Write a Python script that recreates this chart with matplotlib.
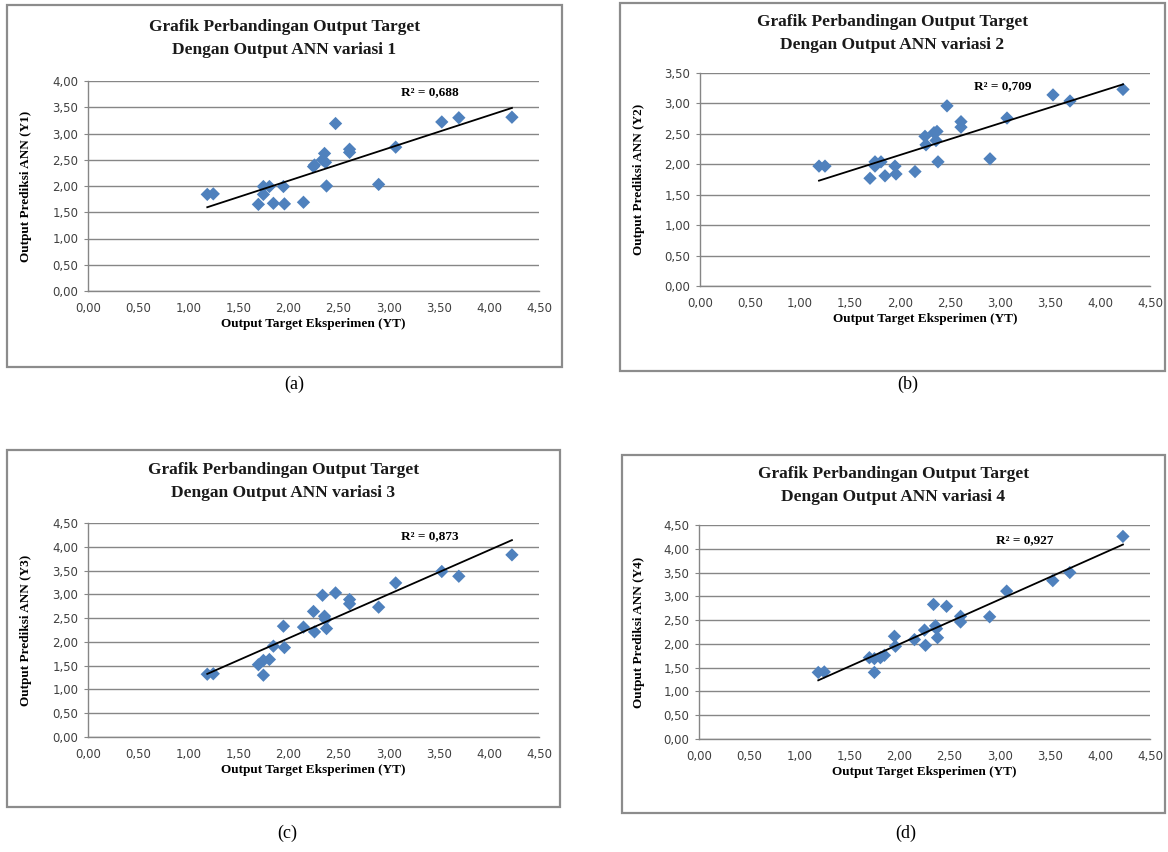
import numpy as np
import matplotlib
matplotlib.use("Agg")
import matplotlib.pyplot as plt
from matplotlib.patches import Rectangle

# ---- data ----
yt = [1.19, 1.25, 1.70, 1.75, 1.75, 1.81, 1.85, 1.95, 1.96, 2.15, 2.25, 2.26,
      2.34, 2.36, 2.37, 2.38, 2.47, 2.61, 2.61, 2.90, 3.07, 3.53, 3.70, 4.23]
y1 = [1.84, 1.85, 1.65, 1.99, 1.84, 1.99, 1.67, 1.99, 1.66, 1.69, 2.37, 2.40,
      2.50, 2.62, 2.45, 2.00, 3.19, 2.70, 2.64, 2.03, 2.74, 3.22, 3.30, 3.31]
y2 = [1.97, 1.97, 1.77, 2.04, 1.97, 2.04, 1.81, 1.97, 1.84, 1.88, 2.46, 2.32,
      2.52, 2.39, 2.54, 2.04, 2.96, 2.70, 2.61, 2.09, 2.76, 3.14, 3.04, 3.23]
y3 = [1.32, 1.33, 1.52, 1.61, 1.30, 1.63, 1.91, 2.33, 1.88, 2.31, 2.64, 2.21,
      2.98, 2.54, 2.47, 2.28, 3.03, 2.89, 2.80, 2.73, 3.24, 3.48, 3.38, 3.83]
y4 = [1.40, 1.41, 1.71, 1.40, 1.69, 1.71, 1.76, 2.16, 1.95, 2.09, 2.29, 1.97,
      2.83, 2.38, 2.32, 2.13, 2.79, 2.58, 2.46, 2.57, 3.11, 3.33, 3.50, 4.26]

series = [y1, y2, y3, y4]
r2_labels = ["R² = 0,688", "R² = 0,709", "R² = 0,873", "R² = 0,927"]
titles = ["Grafik Perbandingan Output Target\nDengan Output ANN variasi 1",
          "Grafik Perbandingan Output Target\nDengan Output ANN variasi 2",
          "Grafik Perbandingan Output Target\nDengan Output ANN variasi 3",
          "Grafik Perbandingan Output Target\nDengan Output ANN variasi 4"]
ylabels = ["Output Prediksi ANN (Y1)", "Output Prediksi ANN (Y2)",
           "Output Prediksi ANN (Y3)", "Output Prediksi ANN (Y4)"]
xlabel = "Output Target Eksperimen (YT)"
captions = ["(a)", "(b)", "(c)", "(d)"]
ymaxs = [4.0, 3.5, 4.5, 4.5]
xticks = [0, 0.5, 1.0, 1.5, 2.0, 2.5, 3.0, 3.5, 4.0, 4.5]

# ---- layout (pixels) ----
W, H = 1168, 852
axes_px = [(88, 539, 81, 291), (700, 1150, 73, 286),
           (88, 539, 523, 737), (699, 1150, 525, 739)]
box_px = [(7, 562, 5, 367), (620, 1165, 3, 371),
          (7, 560, 450, 807), (622, 1165, 455, 813)]
title_y = [[27, 50], [22, 45], [470, 493], [474, 497]]
cap_pos = [(294, 384), (908, 384), (287, 833), (906, 833)]
r2_pos = [(0.758, 0.948), (0.673, 0.94), (0.758, 0.94), (0.723, 0.93)]
ylab_x = [32, 645, 32, 645]

fig = plt.figure(figsize=(W / 100, H / 100), dpi=100)
fig.patch.set_facecolor("white")

def fx(x):
    return x / W

def fy(y):
    return 1 - y / H

grid_col = "#868686"
serif = ["Liberation Serif", "DejaVu Serif"]

for i in range(4):
    bl, br, bt, bb = box_px[i]
    fig.patches.append(Rectangle((fx(bl), fy(bb)), fx(br - bl), (bb - bt) / H,
                                 transform=fig.transFigure, fill=False,
                                 edgecolor="#8c8c8c", linewidth=1.6))
    l, r, t, b = axes_px[i]
    ax = fig.add_axes([fx(l), fy(b), fx(r - l), (b - t) / H])
    x = np.array(yt)
    y = np.array(series[i])
    ax.scatter(x, y, marker="D", s=46, color="#4F81BD", edgecolors="none", zorder=3)
    k, c0 = np.polyfit(x, y, 1)
    xs = np.array([x.min(), x.max()])
    ax.plot(xs, k * xs + c0, color="black", linewidth=1.3, zorder=4)
    ax.set_xlim(0, 4.5)
    ax.set_ylim(0, ymaxs[i])
    ax.set_xticks(xticks)
    ax.set_xticklabels([f"{v:.2f}".replace(".", ",") for v in xticks])
    yt_ticks = np.arange(0, ymaxs[i] + 0.01, 0.5)
    ax.set_yticks(yt_ticks)
    ax.set_yticklabels([f"{v:.2f}".replace(".", ",") for v in yt_ticks])
    ax.yaxis.grid(True, color=grid_col, linewidth=1.0)
    ax.set_axisbelow(True)
    for s in ["top", "right"]:
        ax.spines[s].set_visible(False)
    for s in ["left", "bottom"]:
        ax.spines[s].set_color(grid_col)
        ax.spines[s].set_linewidth(1.0)
    ax.tick_params(axis="x", length=0, pad=8, labelsize=8.5, labelcolor="#404040")
    ax.tick_params(axis="y", length=3, color=grid_col, pad=4, labelsize=8.5, labelcolor="#404040")
    ax.set_xlabel(xlabel, fontfamily=serif, fontweight="bold", fontsize=9.5, labelpad=2)
    ax.set_ylabel(ylabels[i], fontfamily=serif, fontweight="bold", fontsize=9.5)
    ax.yaxis.set_label_coords((ylab_x[i] - l) / (r - l), 0.5)
    ax.text(r2_pos[i][0], r2_pos[i][1], r2_labels[i], transform=ax.transAxes,
            ha="center", va="center", fontfamily=serif, fontweight="bold", fontsize=9.5)
    # title
    cx = (bl + br) / 2
    lines = titles[i].split("\n")
    for j, line in enumerate(lines):
        fig.text(fx(cx), fy(title_y[i][j]), line, ha="center", va="center",
                 fontfamily=serif, fontweight="bold", fontsize=12.5, color="#1a1a1a")
    fig.text(fx(cap_pos[i][0]), fy(cap_pos[i][1]), captions[i], ha="center",
             va="center", fontfamily=serif, fontsize=13)

fig.savefig("out.png", dpi=100, facecolor="white")
